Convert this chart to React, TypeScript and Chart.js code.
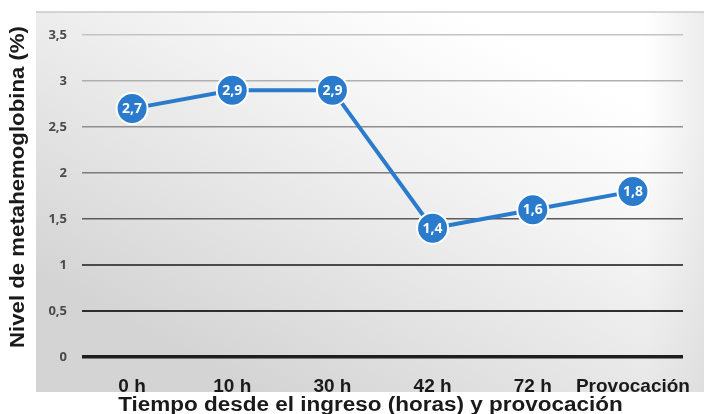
import React, { useEffect, useRef } from "react";
import { Chart, registerables } from "chart.js";

Chart.register(...registerables);

const categories = ["0 h", "10 h", "30 h", "42 h", "72 h", "Provocación"];
const values = [2.7, 2.9, 2.9, 1.4, 1.6, 1.8];
const yTicks = [0, 0.5, 1, 1.5, 2, 2.5, 3, 3.5];
const yTitle = "Nivel de metahemoglobina (%)";
const xTitle = "Tiempo desde el ingreso (horas) y provocación";

const fmt = (v: number) => String(v).replace(".", ",");

const gridColors: Record<string, string> = {
  "0": "#1e1e1e",
  "0.5": "#2e2e2e",
  "1": "#4a4a4a",
  "1.5": "#5a5a5a",
  "2": "#7c7c7c",
  "2.5": "#8e8e8e",
  "3": "#b0b0b0",
  "3.5": "#c4c4c4",
};

const TITLE_FONT = "bold 20px 'Liberation Sans', Arial, sans-serif";

const bgPlugin = {
  id: "bgBox",
  beforeDraw(chart: any) {
    const { ctx, chartArea } = chart;
    const x0 = chartArea.left - 46;
    const y0 = chartArea.top - 23;
    const x1 = chart.width;
    const y1 = chartArea.bottom + 35;
    ctx.save();
    const g = ctx.createLinearGradient(x0 + 420, y0, x0 + 220, y1);
    g.addColorStop(0, "#ffffff");
    g.addColorStop(0.3, "#f4f4f4");
    g.addColorStop(1, "#d4d4d4");
    ctx.fillStyle = g;
    ctx.fillRect(x0, y0, x1 - x0, y1 - y0);
    const side = ctx.createLinearGradient(x1 - 60, 0, x1, 0);
    side.addColorStop(0, "rgba(200,200,200,0)");
    side.addColorStop(1, "rgba(200,200,200,0.35)");
    ctx.fillStyle = side;
    ctx.fillRect(x1 - 60, y0, 60, y1 - y0);
    ctx.strokeStyle = "#c8c8c8";
    ctx.lineWidth = 1.5;
    ctx.beginPath();
    ctx.moveTo(x0, y0);
    ctx.lineTo(x1, y0);
    ctx.stroke();
    ctx.restore();
  },
};

const titlePlugin = {
  id: "stretchedTitles",
  afterDraw(chart: any) {
    const { ctx, chartArea } = chart;
    ctx.save();
    ctx.fillStyle = "#1a1a1a";
    ctx.font = TITLE_FONT;
    ctx.textAlign = "center";
    ctx.textBaseline = "alphabetic";
    ctx.save();
    ctx.translate((chartArea.left + chartArea.right) / 2 - 12, chartArea.bottom + 54);
    ctx.scale(1.125, 1);
    ctx.fillText(xTitle, 0, 0);
    ctx.restore();
    ctx.save();
    ctx.translate(24, (chartArea.top + chartArea.bottom) / 2 - 9);
    ctx.rotate(-Math.PI / 2);
    ctx.scale(1.11, 1);
    ctx.fillText(yTitle, 0, 0);
    ctx.restore();
    ctx.restore();
  },
};

const labelPlugin = {
  id: "pointLabels",
  afterDatasetsDraw(chart: any) {
    const { ctx } = chart;
    const meta = chart.getDatasetMeta(0);
    ctx.save();
    ctx.fillStyle = "#ffffff";
    ctx.font = "bold 14px 'Open Sans', 'Liberation Sans', Arial, sans-serif";
    ctx.textAlign = "center";
    ctx.textBaseline = "middle";
    meta.data.forEach((pt: any, i: number) => {
      ctx.fillText(fmt(values[i]), pt.x, pt.y + 0.5);
    });
    ctx.restore();
  },
};

export default function App() {
  const ref = useRef<HTMLCanvasElement | null>(null);
  useEffect(() => {
    document.body.style.margin = "0";
    const chart = new Chart(ref.current as HTMLCanvasElement, {
      type: "line",
      data: {
        labels: categories,
        datasets: [
          {
            data: values,
            borderColor: "#2a7bcb",
            borderWidth: 4,
            backgroundColor: "#2a7bcb",
            pointRadius: 15.5,
            pointHoverRadius: 15.5,
            pointBorderColor: "#ffffff",
            pointBorderWidth: 2,
            pointBackgroundColor: "#2a7bcb",
            tension: 0,
          },
        ],
      },
      options: {
        animation: false,
        responsive: false,
        maintainAspectRatio: false,
        layout: { padding: { top: 35, right: 21, bottom: 0, left: 0 } },
        plugins: {
          legend: { display: false },
          tooltip: { enabled: false },
        },
        scales: {
          x: {
            offset: true,
            grid: { display: false },
            border: { display: false },
            afterFit: (s: any) => {
              s.height = 57;
            },
            ticks: {
              color: "#1a1a1a",
              padding: 10,
              maxRotation: 0,
              minRotation: 0,
              autoSkip: false,
              font: { family: "'Liberation Sans', Arial, sans-serif", size: 19, weight: "bold" },
            },
          },
          y: {
            min: 0,
            max: 3.5,
            afterBuildTicks: (scale: any) => {
              scale.ticks = yTicks.map((v) => ({ value: v }));
            },
            afterFit: (s: any) => {
              s.width = 82;
            },
            grid: {
              drawTicks: false,
              color: (c: any) => gridColors[String(c.tick?.value)] || "#999",
              lineWidth: (c: any) => (c.tick?.value === 0 ? 3.5 : c.tick?.value <= 1 ? 2 : 1.5),
            },
            border: { display: false },
            ticks: {
              color: "#4a4a4a",
              padding: 15,
              callback: (v: any) => fmt(Number(v)),
              font: { family: "'Open Sans', 'Liberation Sans', Arial, sans-serif", size: 13, weight: "bold" },
            },
          },
        },
      },
      plugins: [bgPlugin, labelPlugin, titlePlugin],
    });
    return () => chart.destroy();
  }, []);
  return (
    <div style={{ position: "absolute", left: 0, top: 0, width: 704, height: 414, background: "#ffffff" }}>
      <canvas ref={ref} width={704} height={414} style={{ display: "block" }} />
    </div>
  );
}
